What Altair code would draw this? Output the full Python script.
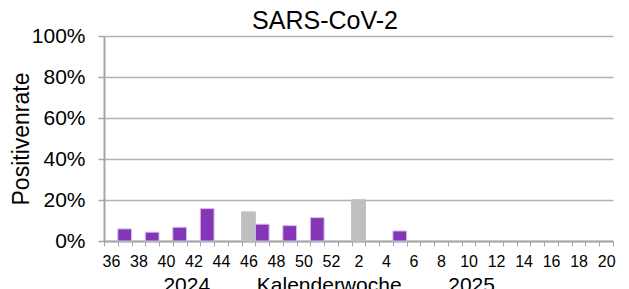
import altair as alt
import pandas as pd

# Calendar weeks (2024: 36-52, 2025: 1-20)
weeks = ["36", "37", "38", "39", "40", "41", "42", "43", "44", "45", "46", "47",
         "48", "49", "50", "51", "52",
         "1", "2", "3", "4", "5", "6", "7", "8", "9", "10", "11", "12", "13",
         "14", "15", "16", "17", "18", "19", "20"]

# Positive rate in percent (None = no bar)
rates = [None, 5.9, None, 4.3, None, 6.7, None, 15.8, None, None, 14.2, 8.2,
         None, 7.5, None, 11.4, None,
         None, 20.1, None, None, 4.9, None, None, None, None, None, None, None,
         None, None, None, None, None, None, None, None]

# bar category: "n" normal (purple), "g" grey
kinds = ["n", "n", "n", "n", "n", "n", "n", "n", "n", "n", "g", "n",
         "n", "n", "n", "n", "n",
         "n", "g", "n", "n", "n", "n", "n", "n", "n", "n", "n", "n", "n",
         "n", "n", "n", "n", "n", "n", "n"]

tick_labels = [w if int(w) % 2 == 0 else "" for w in weeks]

df = pd.DataFrame({
    "week": weeks,
    "idx": list(range(len(weeks))),
    "rate": [None if r is None else r / 100 for r in rates],
    "kind": kinds,
})
bars_df = df.dropna(subset=["rate"])

FONT = "Liberation Sans"
PURPLE = "#8436B6"
GREY = "#BFBFBF"
AXIS_GREY = "#A6A6A6"
GRID_GREY = "#B3B3B3"

n = len(weeks)
x_scale = alt.Scale(domain=[0, n], nice=False, zero=False)

nb = "\u00a0" * 8
x_title = "2024" + nb + "Kalenderwoche" + nb + "2025"

label_expr = "[" + ",".join("'" + t + "'" for t in tick_labels) + "][floor(datum.value)]"
label_values = [i + 0.5 for i, t in enumerate(tick_labels) if t != ""]

bars = alt.Chart(bars_df).mark_bar(strokeWidth=1).encode(
    x=alt.X("idx:Q", scale=x_scale,
            axis=alt.Axis(orient="bottom", values=list(range(n + 1)), labels=False,
                          ticks=True, tickSize=5, tickColor=AXIS_GREY, tickWidth=1,
                          domain=True, domainColor=AXIS_GREY, domainWidth=2,
                          grid=False, title=x_title, titleFont=FONT,
                          titleFontSize=21, titleFontWeight="normal", titleColor="#000",
                          titleX=224.7, titleY=50, titleAlign="center",
                          titleBaseline="alphabetic")),
    x2="idx2:Q",
    y=alt.Y("rate:Q", scale=alt.Scale(domain=[0, 1], nice=False),
            axis=alt.Axis(values=[0, 0.2, 0.4, 0.6, 0.8, 1.0], format=".0%",
                          labelFont=FONT, labelFontSize=21, labelColor="#000",
                          labelPadding=13, tickSize=6, tickColor=AXIS_GREY, tickWidth=1.5,
                          domain=True, domainColor=AXIS_GREY, domainWidth=2,
                          grid=True, gridColor=GRID_GREY, gridWidth=1.5,
                          title="Positivenrate", titleFont=FONT, titleFontSize=23,
                          titleFontWeight="normal", titleColor="#000",
                          titleX=-82.5, titleY=102.5, titleAngle=-90,
                          titleAlign="center", titleBaseline="middle")),
    y2=alt.datum(0),
    color=alt.Color("kind:N", scale=alt.Scale(domain=["n", "g"], range=[PURPLE, GREY]),
                    legend=None),
    stroke=alt.Stroke("kind:N", scale=alt.Scale(domain=["n", "g"], range=["#D3BFE8", GREY]),
                      legend=None),
).transform_calculate(idx2="datum.idx + 1")

labels = alt.Chart(df).mark_point(opacity=0).encode(
    x=alt.X("idx:Q", scale=x_scale,
            axis=alt.Axis(orient="bottom", values=label_values, labelExpr=label_expr,
                          ticks=False, tickSize=0, domain=False, grid=False, title=None,
                          labelFont=FONT, labelFontSize=16, labelColor="#000",
                          labelPadding=12, labelBaseline="top", labelAngle=0)),
)

chart = alt.layer(bars, labels).resolve_axis(x="independent").properties(
    width=509,
    height=205,
    title=alt.Title("SARS-CoV-2", font=FONT, fontSize=25, fontWeight="normal",
                    color="#000", anchor="middle", frame="group", dx=-33.5,
                    offset=-8.5, baseline="top"),
    autosize=alt.AutoSizeParams(type="none"),
    padding={"left": 96, "top": 28, "right": 8, "bottom": 60},
).configure_view(stroke=None)

chart.save("out.html", embed_options={"renderer": "svg", "actions": False})
